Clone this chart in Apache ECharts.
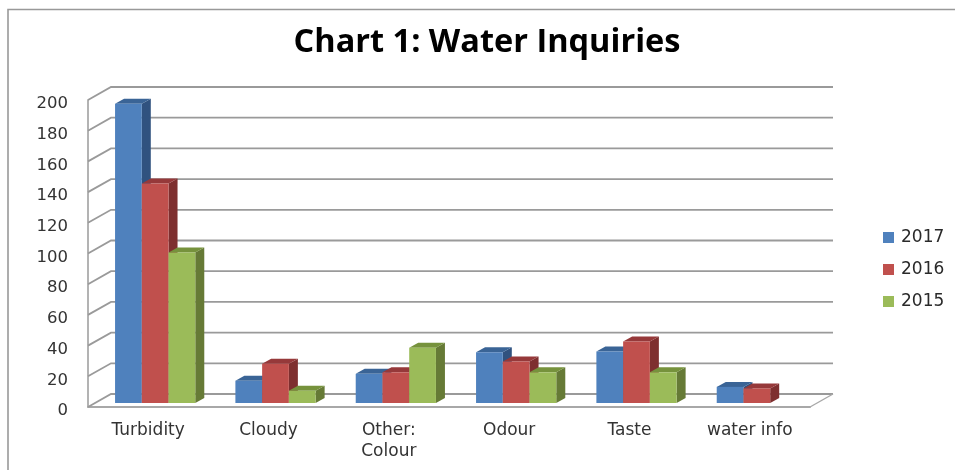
<!DOCTYPE html>
<html><head><meta charset="utf-8">
<style>html,body{margin:0;padding:0;background:#fff}#c{width:955px;height:470px}</style>
<script src="https://cdn.jsdelivr.net/npm/echarts@6/dist/echarts.min.js"></script>
</head><body><div id="c"></div>
<script>
const categories = ['Turbidity','Cloudy','Other:\nColour','Odour','Taste','water info'];
const values2017 = [195,14.5,19,33,33.5,10.5];
const values2016 = [143,25.5,20,27,40,9.5];
const values2015 = [98,8,36,20,20,null];
const yTicks = [0,20,40,60,80,100,120,140,160,180,200];

const wallDX = 23, wallDY = -13;
const barOffX = 7, barOffY = -4, depthX = 9, depthY = -5;
const lineColor = '#9a9a9a';

function wallRender(params, api) {
  const cs = params.coordSys;
  const p = api.coord([0, api.value(0)]);
  const left = cs.x, right = cs.x + cs.width, y = p[1];
  const isZero = api.value(0) === 0;
  const children = [{
    type: 'polyline',
    shape: { points: [[left, y], [left + wallDX, y + wallDY], [right + wallDX, y + wallDY]] },
    style: { stroke: lineColor, lineWidth: 1.8, fill: null }
  }];
  if (isZero) children.push({
    type: 'line',
    shape: { x1: right, y1: y, x2: right + wallDX, y2: y + wallDY },
    style: { stroke: '#a8a8a8', lineWidth: 1.4 }
  });
  return { type: 'group', children };
}

function barRender(idx, front, top, side) {
  return function (params, api) {
    const v = api.value(1);
    if (v == null || isNaN(v)) return;
    const c = api.value(0);
    const bw = api.size([1, 0])[0] / 4.5;
    const base = api.coord([c, 0]);
    const head = api.coord([c, v]);
    const x0 = base[0] - 1.5 * bw + idx * bw + barOffX;
    const x1 = x0 + bw;
    const y0 = base[1] + barOffY;
    const y1 = head[1] + barOffY;
    return { type: 'group', children: [
      { type: 'polygon', shape: { points: [[x1, y0], [x1 + depthX, y0 + depthY], [x1 + depthX, y1 + depthY], [x1, y1]] }, style: { fill: side } },
      { type: 'polygon', shape: { points: [[x0, y1], [x0 + depthX, y1 + depthY], [x1 + depthX, y1 + depthY], [x1, y1]] }, style: { fill: top } },
      { type: 'rect', shape: { x: x0, y: y1, width: bw, height: y0 - y1 }, style: { fill: front } }
    ] };
  };
}

function barSeries(name, vals, idx, front, top, side) {
  return {
    name, type: 'custom', coordinateSystem: 'cartesian2d', clip: false, z: 3,
    itemStyle: { color: front },
    encode: { x: 0, y: 1 },
    data: vals.map((v, i) => [i, v]),
    renderItem: barRender(idx, front, top, side)
  };
}

const chart = echarts.init(document.getElementById('c'), null, { renderer: 'canvas' });
chart.setOption({
  animation: false,
  backgroundColor: '#fff',
  title: {
    text: 'Chart 1: Water Inquiries', left: 482, top: 21, textAlign: 'center',
    textStyle: { fontFamily: 'Open Sans', fontWeight: 'bold', fontSize: 32.5, color: '#000' }
  },
  legend: {
    data: ['2017', '2016', '2015'], orient: 'vertical', left: 878, top: 224,
    icon: 'rect', itemWidth: 11, itemHeight: 11, itemGap: 15,
    textStyle: { fontFamily: 'DejaVu Sans', fontSize: 17, color: '#2a2a2a', padding: [0, 0, 0, 2] }
  },
  grid: { left: 88, top: 100, width: 722, height: 307, containLabel: false },
  xAxis: {
    type: 'category', data: categories, boundaryGap: true,
    axisTick: { show: false },
    axisLine: { show: true, lineStyle: { color: '#a8a8a8', width: 2 } },
    axisLabel: { interval: 0, margin: 13, lineHeight: 21, fontFamily: 'DejaVu Sans', fontSize: 17, color: '#333' }
  },
  yAxis: {
    type: 'value', min: 0, max: 200, interval: 20,
    splitLine: { show: false }, axisTick: { show: false },
    axisLine: { show: true, lineStyle: { color: '#a0a0a0', width: 1.6 } },
    axisLabel: { margin: 20, verticalAlign: 'top', lineHeight: 8, fontFamily: 'DejaVu Sans', fontSize: 16.5, color: '#333' }
  },
  graphic: [
    { type: 'polyline', silent: true, shape: { points: [[8, 470], [8, 9.5], [955, 9.5]] }, style: { stroke: '#999', lineWidth: 1.6, fill: null } }
  ],
  series: [
    { name: 'wall', type: 'custom', coordinateSystem: 'cartesian2d', clip: false, z: 1, silent: true,
      encode: { y: 0 }, data: yTicks.map(t => [t]), renderItem: wallRender },
    barSeries('2017', values2017, 0, '#4F81BD', '#3A6496', '#30527F'),
    barSeries('2016', values2016, 1, '#C0504D', '#96393A', '#7E2F2F'),
    barSeries('2015', values2015, 2, '#9BBB59', '#76923C', '#667A36')
  ]
});
</script></body></html>
